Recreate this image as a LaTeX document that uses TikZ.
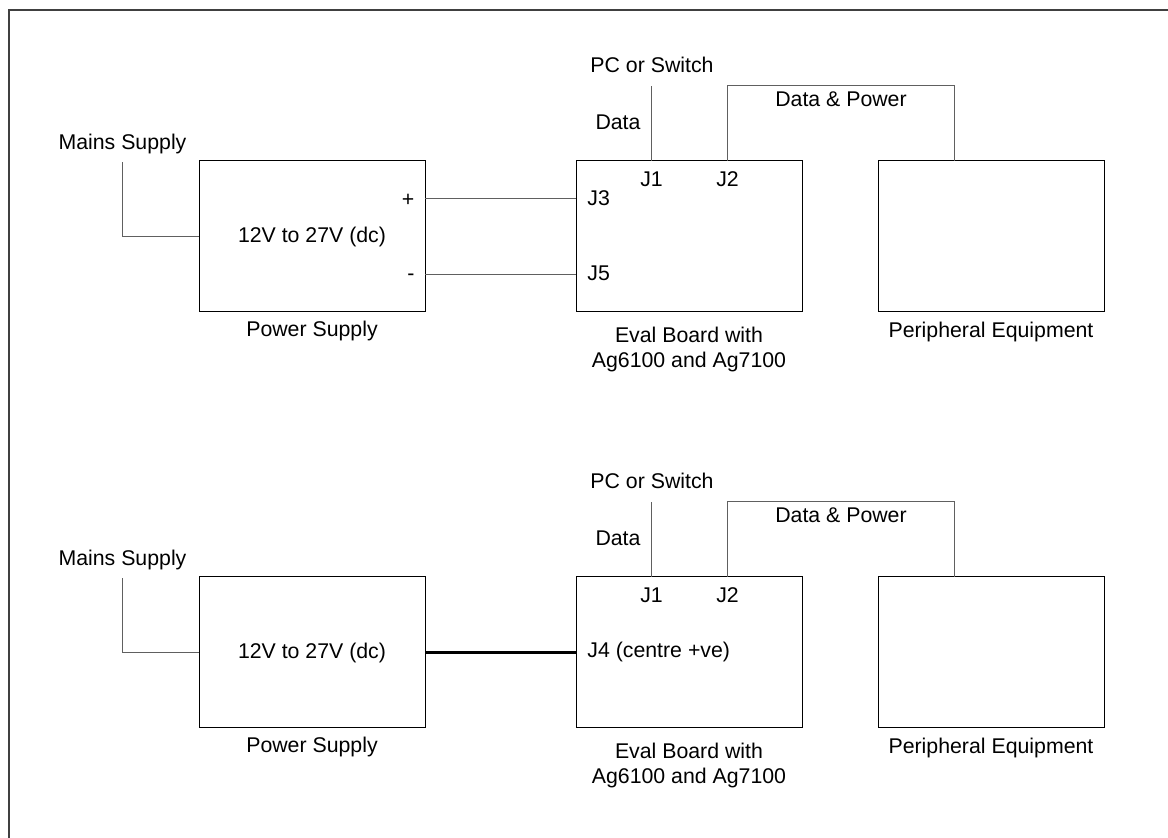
\documentclass[tikz,border=0pt]{standalone}
\usepackage{fontspec}
\setmainfont{Liberation Sans}
\usetikzlibrary{positioning}
\definecolor{wirecolor}{RGB}{96,96,96}
\definecolor{framecolor}{RGB}{64,64,64}

\begin{document}
\begin{tikzpicture}[
    x=0.5pt, y=-0.5pt,
    font=\fontsize{10.65}{12.5}\selectfont,
    box/.style={rectangle, draw, line width=0.5pt, minimum width=113pt, minimum height=75.5pt, inner sep=0pt, outer sep=0pt},
    lbl/.style={inner sep=0pt, anchor=base},
    wire/.style={draw=wirecolor, line width=0.5pt},
    thickwire/.style={draw=black, line width=1.5pt},
    frame/.style={draw=framecolor, line width=0.6pt}
]
\useasboundingbox (0,0) rectangle (1168,838);
\draw[frame] (1168,10) -| (9,838);

\node[box] (ps1) at (312,236.5) {12V to 27V (dc)};
\node[box, right=75.5pt of ps1] (eval1) {};
\node[box, right=38pt of eval1] (per1) {};
\node[lbl] (ps1lab) at ([yshift=-12.5pt]ps1.south) {Power Supply};
\node[lbl] (eval1lab) at ([yshift=-15.5pt]eval1.south) {Eval Board with};
\node[lbl] (eval1lab2) at ([yshift=-28pt]eval1.south) {Ag6100 and Ag7100};
\node[lbl] (per1lab) at ([yshift=-13pt]per1.south) {Peripheral Equipment};
\node[lbl] (mains1) at (122.5,150) {Mains Supply};
\node[lbl] (pc1) at (652,72.7) {PC or Switch};
\node[lbl] (data1) at (618,130) {Data};
\node[lbl] (dp1lab) at (841,107) {Data \& Power};
\node[lbl] (j1lab1) at ([xshift=-18.75pt, yshift=-12.85pt]eval1.north) {J1};
\node[lbl] (j2lab1) at ([xshift=19.25pt, yshift=-12.85pt]eval1.north) {J2};
\node[lbl, anchor=base west] (j3lab1) at (587,205.7) {J3};
\node[lbl, anchor=base west] (j5lab1) at (587,280.7) {J5};
\node[lbl] (plus1) at (408,206.5) {+};
\node[lbl] (minus1) at (411,281) {-};
\coordinate (dp1) at (954,86);

\draw[wire] (ps1.west) -| ([yshift=-3.75pt]mains1.south);
\draw[wire] ([yshift=18.75pt]ps1.east) -- ([yshift=18.75pt]eval1.west);
\draw[wire] ([yshift=-19.25pt]ps1.east) -- ([yshift=-19.25pt]eval1.west);
\draw[wire] (eval1.north -| j1lab1) -- ++(0,-75);
\draw[wire] (eval1.north -| j2lab1) |- (dp1) -- (per1.north -| dp1);

\node[box, below=132.5pt of ps1] (ps2) {12V to 27V (dc)};
\node[box, right=75.5pt of ps2] (eval2) {};
\node[box, right=38pt of eval2] (per2) {};
\node[lbl] (ps2lab) at ([yshift=-12.5pt]ps2.south) {Power Supply};
\node[lbl] (eval2lab) at ([yshift=-15.5pt]eval2.south) {Eval Board with};
\node[lbl] (eval2lab2) at ([yshift=-28pt]eval2.south) {Ag6100 and Ag7100};
\node[lbl] (per2lab) at ([yshift=-13pt]per2.south) {Peripheral Equipment};
\node[lbl] (mains2) at (122.5,566) {Mains Supply};
\node[lbl] (pc2) at (652,488.7) {PC or Switch};
\node[lbl] (data2) at (618,546) {Data};
\node[lbl] (dp2lab) at (841,523) {Data \& Power};
\node[lbl] (j1lab2) at ([xshift=-18.75pt, yshift=-12.85pt]eval2.north) {J1};
\node[lbl] (j2lab2) at ([xshift=19.25pt, yshift=-12.85pt]eval2.north) {J2};
\node[lbl, anchor=base west] (j4lab2) at (587,658) {J4 (centre +ve)};
\coordinate (dp2) at (954,502);

\draw[wire] (ps2.west) -| ([yshift=-3.75pt]mains2.south);
\draw[thickwire] (ps2.east) -- (eval2.west);
\draw[wire] (eval2.north -| j1lab2) -- ++(0,-75);
\draw[wire] (eval2.north -| j2lab2) |- (dp2) -- (per2.north -| dp2);
\end{tikzpicture}
\end{document}
